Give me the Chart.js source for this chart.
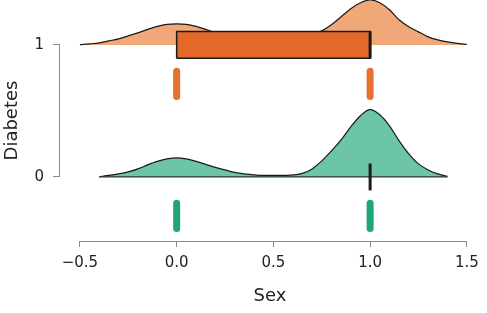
<!DOCTYPE html>
<html>
<head>
  <title>Diabetes by Sex - raincloud</title>
  <script src="https://cdn.jsdelivr.net/npm/chart.js"></script>
  <style>
    body { margin: 0; background: #fff; }
    canvas { display: block; }
  </style>
</head>
<body>
  <canvas id="rain" width="487" height="313"></canvas>
  <script>
    // data
    const groups = [0, 1];                       // Diabetes
    const xTicks = [-0.5, 0, 0.5, 1, 1.5];       // Sex
    const densX = [-0.5, -0.45, -0.4, -0.35, -0.3, -0.25, -0.2, -0.15, -0.1, -0.05, 0,
                   0.05, 0.1, 0.15, 0.2, 0.25, 0.3, 0.35, 0.4, 0.45, 0.5,
                   0.55, 0.6, 0.65, 0.7, 0.75, 0.8, 0.85, 0.9, 0.95, 1.0,
                   1.05, 1.1, 1.15, 1.2, 1.25, 1.3, 1.35, 1.4, 1.45, 1.5];
    // density (x100) per group
    const dens1 = [0.3, 1, 2, 4, 6, 9, 12, 15.5, 18.5, 20.5, 21,
                   20.5, 18.5, 15.5, 12, 9, 6.5, 5, 4, 4, 4,
                   4.5, 5.5, 7.5, 10.5, 14, 20, 28, 36, 42, 45,
                   42, 35, 25, 18, 13, 8, 5, 3, 1.5, 0.5];
    const dens0 = [null, null, 0.3, 1.5, 3, 5, 8, 12, 15.5, 18, 19,
                   18, 15.5, 12.5, 9.5, 7, 4.5, 3, 2, 1.5, 1.5,
                   1.5, 2, 3.5, 8, 16, 26, 37, 50, 61, 67,
                   62, 51, 36, 23, 13, 7, 3, 0.5, null, null];
    // box stats per group (q1, median, q3)
    const q1 = [1, 0];
    const med = [1, 1];
    const q3 = [1, 1];
    // raw values (Sex) shown as rain
    const rainX = [0, 1];

    const densScale = 0.0076;
    const boxHalf = 0.102;
    const orangeLight = '#f0a878', orange = '#e3682a', orangeRain = '#e8702f';
    const greenLight = '#6cc4a9', greenRain = '#1fa678';
    const axisColor = '#8a8a8a';
    const font = 'DejaVu Sans';

    const densLine = (vals, base) => densX.map((x, i) => ({ x: x, y: vals[i] === null ? null : base + vals[i] * densScale }));

    const datasets = [];
    // rain stripes
    groups.forEach(g => {
      rainX.forEach(x => {
        datasets.push({
          data: [{ x: x, y: g - 0.2 }, { x: x, y: g - 0.39 }],
          borderColor: g === 1 ? orangeRain : greenRain,
          borderWidth: 7, borderCapStyle: 'round', pointRadius: 0
        });
      });
    });
    // medians
    groups.forEach(g => {
      datasets.push({
        data: [{ x: med[g], y: g - boxHalf }, { x: med[g], y: g + boxHalf }],
        borderColor: '#1a1a1a', borderWidth: 3, pointRadius: 0
      });
    });
    // boxes
    groups.forEach(g => {
      if (q3[g] > q1[g]) {
        datasets.push({
          data: [{ x: q1[g], y: g - boxHalf }, { x: q3[g], y: g - boxHalf }, { x: q3[g], y: g + boxHalf },
                 { x: q1[g], y: g + boxHalf }, { x: q1[g], y: g - boxHalf }],
          borderColor: '#1a1a1a', borderWidth: 1.5, backgroundColor: orange,
          fill: 'shape', pointRadius: 0
        });
      }
    });
    // green baseline
    datasets.push({
      data: [{ x: -0.4, y: 0 }, { x: 1.4, y: 0 }],
      borderColor: '#333', borderWidth: 1.2, pointRadius: 0
    });
    // densities
    datasets.push({
      data: densLine(dens1, 1), borderColor: '#1a1a1a', borderWidth: 1.2,
      backgroundColor: orangeLight, fill: { value: 1 }, pointRadius: 0,
      cubicInterpolationMode: 'monotone'
    });
    datasets.push({
      data: densLine(dens0, 0), borderColor: '#1a1a1a', borderWidth: 1.2,
      backgroundColor: greenLight, fill: { value: 0 }, pointRadius: 0,
      cubicInterpolationMode: 'monotone'
    });

    // base-R style axis lines, only between the outer ticks
    const axisLines = {
      id: 'axisLines',
      afterDraw(chart) {
        const { ctx, chartArea, scales: { x, y } } = chart;
        ctx.save();
        ctx.strokeStyle = axisColor;
        ctx.lineWidth = 1;
        ctx.beginPath();
        ctx.moveTo(x.getPixelForValue(xTicks[0]), chartArea.bottom + 0.5);
        ctx.lineTo(x.getPixelForValue(xTicks[xTicks.length - 1]), chartArea.bottom + 0.5);
        ctx.moveTo(chartArea.left - 0.5, y.getPixelForValue(groups[0]));
        ctx.lineTo(chartArea.left - 0.5, y.getPixelForValue(groups[groups.length - 1]));
        ctx.stroke();
        ctx.restore();
      }
    };

    new Chart(document.getElementById('rain'), {
      type: 'line',
      data: { datasets: datasets },
      plugins: [axisLines],
      options: {
        responsive: false,
        animation: false,
        layout: { padding: { left: 0, right: 7, top: 0, bottom: 0 } },
        plugins: { legend: { display: false }, tooltip: { enabled: false } },
        scales: {
          x: {
            type: 'linear', min: -0.603, max: 1.568,
            afterBuildTicks: s => { s.ticks = xTicks.map(v => ({ value: v })); },
            afterFit: s => { s.height = 72; s.paddingLeft = 0; s.paddingRight = 0; },
            grid: { drawOnChartArea: false, drawTicks: true, tickLength: 6, color: axisColor },
            border: { display: false },
            ticks: {
              padding: 7, color: '#222', font: { family: font, size: 15 },
              callback: v => (v < 0 ? '\u2212' : '') + Math.abs(v).toFixed(1)
            },
            title: { display: true, text: 'Sex', color: '#222', font: { family: font, size: 18 }, padding: { top: 0, bottom: 6 } }
          },
          y: {
            type: 'linear', min: -0.485, max: 1.34,
            afterBuildTicks: s => { s.ticks = groups.map(v => ({ value: v })); },
            afterFit: s => { s.width = 60; s.paddingTop = 0; s.paddingBottom = 0; },
            grid: { drawOnChartArea: false, drawTicks: true, tickLength: 7, color: axisColor },
            border: { display: false },
            ticks: { padding: 9, color: '#222', font: { family: font, size: 15 }, callback: v => String(v) },
            title: { display: true, text: 'Diabetes', color: '#222', font: { family: font, size: 18 }, padding: { top: 2, bottom: 0 } }
          }
        }
      }
    });
  </script>
</body>
</html>
